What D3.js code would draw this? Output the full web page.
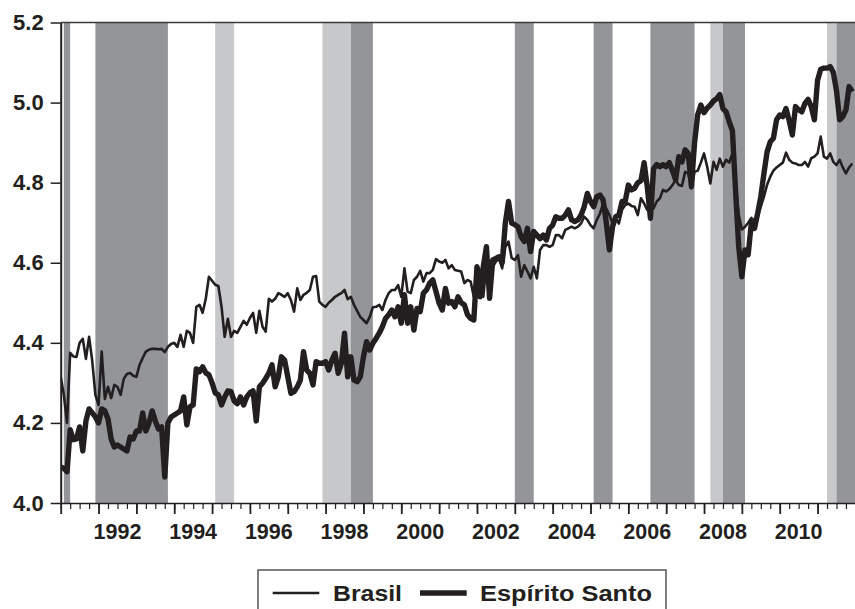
<!DOCTYPE html>
<meta charset="utf-8">
<style>
  body { margin: 0; background: #fff; }
  text { font-family: "Liberation Sans", Arial, sans-serif; font-weight: bold; fill: #231f20; }
</style>
<script src="https://cdn.jsdelivr.net/npm/d3@7"></script>
<div id="chart"></div>
<script>

// monthly series, first value is 1991M1
var startYear = 1991;

var brasil = [
  4.316, 4.27, 4.20, 4.375, 4.366, 4.365, 4.40, 4.41, 4.36, 4.415, 4.355, 4.27,
  4.245, 4.378, 4.26, 4.29, 4.262, 4.295, 4.29, 4.27, 4.31, 4.322, 4.325, 4.318,
  4.315, 4.345, 4.362, 4.378, 4.383, 4.385, 4.385, 4.384, 4.385, 4.377, 4.39, 4.397,
  4.40, 4.39, 4.42, 4.39, 4.43, 4.425, 4.40, 4.49, 4.495, 4.475, 4.51, 4.565,
  4.555, 4.545, 4.542, 4.49, 4.415, 4.46, 4.415, 4.43, 4.425, 4.44, 4.455, 4.445,
  4.462, 4.475, 4.425, 4.48, 4.44, 4.428, 4.51, 4.503, 4.51, 4.524, 4.52, 4.515,
  4.524, 4.507, 4.478, 4.536, 4.507, 4.52, 4.525, 4.532, 4.565, 4.567, 4.503, 4.495,
  4.49, 4.50, 4.507, 4.515, 4.52, 4.524, 4.532, 4.509, 4.515, 4.495, 4.48, 4.465,
  4.457, 4.449, 4.465, 4.489, 4.49, 4.495, 4.482, 4.507, 4.524, 4.532, 4.532, 4.544,
  4.515, 4.586, 4.528, 4.524, 4.557, 4.565, 4.58, 4.553, 4.574, 4.574, 4.582, 4.609,
  4.603, 4.60, 4.607, 4.586, 4.594, 4.582, 4.58, 4.578, 4.549, 4.557, 4.553, 4.515,
  4.59, 4.582, 4.515, 4.597, 4.574, 4.59, 4.603, 4.611, 4.586, 4.64, 4.653, 4.612,
  4.607, 4.619, 4.565, 4.594, 4.578, 4.561, 4.59, 4.561, 4.632, 4.644, 4.644, 4.64,
  4.644, 4.669, 4.669, 4.661, 4.682, 4.686, 4.69, 4.686, 4.69, 4.698, 4.715, 4.707,
  4.694, 4.686, 4.707, 4.723, 4.748, 4.735, 4.719, 4.698, 4.711, 4.698, 4.732, 4.744,
  4.748, 4.742, 4.74, 4.719, 4.761, 4.748, 4.732, 4.732, 4.736, 4.753, 4.761, 4.782,
  4.778, 4.784, 4.794, 4.807, 4.794, 4.792, 4.827, 4.823, 4.786, 4.827, 4.83, 4.85,
  4.873, 4.84, 4.798, 4.852, 4.832, 4.86, 4.84, 4.857, 4.85, 4.873, 4.80, 4.72,
  4.683, 4.69, 4.70, 4.712, 4.705, 4.715, 4.74, 4.765, 4.795, 4.815, 4.83, 4.838,
  4.844, 4.85, 4.875, 4.857, 4.85, 4.848, 4.844, 4.844, 4.852, 4.84, 4.861, 4.865,
  4.873, 4.915, 4.865, 4.86, 4.873, 4.852, 4.844, 4.857, 4.838, 4.823, 4.838, 4.848
];

var espiritoSanto = [
  4.09, 4.087, 4.078, 4.183, 4.158, 4.16, 4.19, 4.13, 4.205, 4.235, 4.225, 4.215,
  4.20, 4.235, 4.23, 4.21, 4.16, 4.14, 4.145, 4.14, 4.135, 4.13, 4.165, 4.16,
  4.18, 4.18, 4.225, 4.18, 4.20, 4.23, 4.205, 4.185, 4.19, 4.065, 4.20, 4.215,
  4.22, 4.225, 4.23, 4.265, 4.195, 4.24, 4.245, 4.335, 4.328, 4.34, 4.325, 4.32,
  4.30, 4.275, 4.27, 4.245, 4.265, 4.28, 4.278, 4.255, 4.248, 4.265, 4.245, 4.265,
  4.275, 4.28, 4.205, 4.29, 4.299, 4.311, 4.324, 4.345, 4.29, 4.315, 4.365, 4.357,
  4.315, 4.274, 4.278, 4.29, 4.307, 4.378, 4.332, 4.324, 4.295, 4.353, 4.349, 4.349,
  4.353, 4.332, 4.357, 4.374, 4.324, 4.349, 4.424, 4.315, 4.365, 4.307, 4.303, 4.315,
  4.365, 4.403, 4.382, 4.399, 4.411, 4.424, 4.44, 4.461, 4.47, 4.482, 4.465, 4.49,
  4.449, 4.52, 4.449, 4.49, 4.432, 4.486, 4.478, 4.524, 4.532, 4.549, 4.557, 4.528,
  4.499, 4.482, 4.536, 4.499, 4.503, 4.49, 4.515, 4.50, 4.495, 4.47, 4.461, 4.457,
  4.59, 4.515, 4.59, 4.64, 4.511, 4.607, 4.611, 4.615, 4.60, 4.70, 4.753, 4.699,
  4.695, 4.69, 4.665, 4.653, 4.686, 4.628, 4.678, 4.669, 4.66, 4.669, 4.657, 4.686,
  4.694, 4.715, 4.711, 4.711, 4.719, 4.732, 4.707, 4.703, 4.707, 4.719, 4.74, 4.773,
  4.753, 4.74, 4.765, 4.769, 4.757, 4.70, 4.632, 4.69, 4.715, 4.719, 4.753, 4.753,
  4.794, 4.782, 4.786, 4.80, 4.805, 4.85, 4.79, 4.711, 4.835, 4.845, 4.84, 4.845,
  4.84, 4.85, 4.83, 4.807, 4.865, 4.852, 4.882, 4.873, 4.79, 4.90, 4.97, 4.994,
  4.975, 4.986, 4.994, 5.004, 5.01, 5.02, 4.985, 4.977, 4.952, 4.93, 4.78, 4.64,
  4.565, 4.632, 4.62, 4.70, 4.686, 4.723, 4.765, 4.823, 4.877, 4.902, 4.911, 4.957,
  4.969, 4.965, 4.985, 4.955, 4.919, 4.99, 4.982, 4.977, 4.998, 5.008, 4.99, 4.957,
  5.056, 5.083, 5.086, 5.086, 5.09, 5.075, 5.03, 4.957, 4.965, 4.982, 5.04, 5.027
];

// shaded periods, in decimal years
var darkBands = [[1991.083, 1991.25], [1991.917, 1993.833], [1998.667, 1999.25], [2003.0, 2003.5],
                 [2005.083, 2005.583], [2006.583, 2007.75], [2008.5, 2009.083], [2011.5, 2012]];
var lightBands = [[1995.083, 1995.583], [1997.917, 1998.667], [2008.167, 2008.5], [2011.25, 2011.5]];

var yTicks = [4.0, 4.2, 4.4, 4.6, 4.8, 5.0, 5.2];
var yearLabels = [1992, 1994, 1996, 1998, 2000, 2002, 2004, 2006, 2008, 2010];

var W = 855, H = 609;
var plotL = 60.7, plotR = 855.4, plotT = 22.5, plotB = 503;

var svg = d3.select("#chart").append("svg")
    .attr("width", W)
    .attr("height", H);

var x = d3.scaleLinear().domain([1991, 2012]).range([plotL, plotR]);
var y = d3.scaleLinear().domain([4.0, 5.2]).range([plotB, plotT]);

svg.append("clipPath").attr("id", "plot")
  .append("rect")
    .attr("x", plotL).attr("y", plotT)
    .attr("width", plotR - plotL).attr("height", plotB - plotT);

var plot = svg.append("g").attr("clip-path", "url(#plot)");

// bands
plot.selectAll(".light")
  .data(lightBands)
  .enter().append("rect")
    .attr("x", function(d) { return x(d[0]); })
    .attr("y", plotT)
    .attr("width", function(d) { return x(d[1]) - x(d[0]); })
    .attr("height", plotB - plotT)
    .attr("fill", "#c7c8ca");

plot.selectAll(".dark")
  .data(darkBands)
  .enter().append("rect")
    .attr("x", function(d) { return x(d[0]); })
    .attr("y", plotT)
    .attr("width", function(d) { return x(d[1]) - x(d[0]); })
    .attr("height", plotB - plotT)
    .attr("fill", "#939598");

// lines
var line = d3.line()
    .x(function(d, i) { return x(startYear + i / 12); })
    .y(function(d) { return y(d); });

plot.append("path")
    .datum(brasil)
    .attr("d", line)
    .attr("fill", "none")
    .attr("stroke", "#231f20")
    .attr("stroke-width", 2.6)
    .attr("stroke-linejoin", "round");

plot.append("path")
    .datum(espiritoSanto)
    .attr("d", line)
    .attr("fill", "none")
    .attr("stroke", "#231f20")
    .attr("stroke-width", 5.4)
    .attr("stroke-linejoin", "round");

// top frame
svg.append("line")
    .attr("x1", plotL).attr("x2", plotR)
    .attr("y1", plotT).attr("y2", plotT)
    .attr("stroke", "#3a3a3a")
    .attr("stroke-width", 1.5);

// Y axis
var yAxis = svg.append("g")
    .attr("transform", "translate(" + plotL + ",0)")
    .call(d3.axisLeft(y).tickValues(yTicks).tickSize(10).tickSizeOuter(0).tickPadding(7)
      .tickFormat(d3.format(".1f")));
yAxis.select(".domain").attr("stroke", "#231f20").attr("stroke-width", 2);
yAxis.selectAll(".tick line").attr("stroke", "#231f20").attr("stroke-width", 1.5);
yAxis.selectAll("text").style("font-size", "22px").attr("fill", "#231f20");

// X axis: quarterly minor ticks and yearly major ticks
var quarters = d3.range(0, 21 * 4 + 1).map(function(q) { return 1991 + q / 4; });
var years = d3.range(1991, 2013);

var xMinor = svg.append("g")
    .attr("transform", "translate(0," + plotB + ")")
    .call(d3.axisBottom(x).tickValues(quarters).tickSize(6).tickSizeOuter(0).tickFormat(""));
xMinor.select(".domain").attr("stroke", "#231f20").attr("stroke-width", 1.5);
xMinor.selectAll(".tick line").attr("stroke", "#231f20").attr("stroke-width", 1.2);

var xMajor = svg.append("g")
    .attr("transform", "translate(0," + plotB + ")")
    .call(d3.axisBottom(x).tickValues(years).tickSize(11).tickSizeOuter(0).tickFormat(""));
xMajor.select(".domain").remove();
xMajor.selectAll(".tick line").attr("stroke", "#231f20").attr("stroke-width", 1.8);

svg.append("g").selectAll("text")
  .data(yearLabels)
  .enter().append("text")
    .attr("x", function(d) { return x(d + 0.5); })
    .attr("y", 538.5)
    .attr("text-anchor", "middle")
    .style("font-size", "21.5px")
    .text(function(d) { return d; });

// legend
var legend = svg.append("g");
legend.append("rect")
    .attr("x", 258).attr("y", 570)
    .attr("width", 408).attr("height", 60)
    .attr("fill", "#fff")
    .attr("stroke", "#555")
    .attr("stroke-width", 1.5);

legend.append("line")
    .attr("x1", 272.7).attr("x2", 319.3)
    .attr("y1", 593).attr("y2", 593)
    .attr("stroke", "#231f20").attr("stroke-width", 2.6);
legend.append("text")
    .attr("x", 333).attr("y", 600.5)
    .attr("textLength", 69).attr("lengthAdjust", "spacingAndGlyphs")
    .style("font-size", "21.5px")
    .text("Brasil");

legend.append("line")
    .attr("x1", 420).attr("x2", 466.7)
    .attr("y1", 593).attr("y2", 593)
    .attr("stroke", "#231f20").attr("stroke-width", 5.4);
legend.append("text")
    .attr("x", 480).attr("y", 600.5)
    .attr("textLength", 172).attr("lengthAdjust", "spacingAndGlyphs")
    .style("font-size", "21.5px")
    .text("Espírito Santo");

</script>
